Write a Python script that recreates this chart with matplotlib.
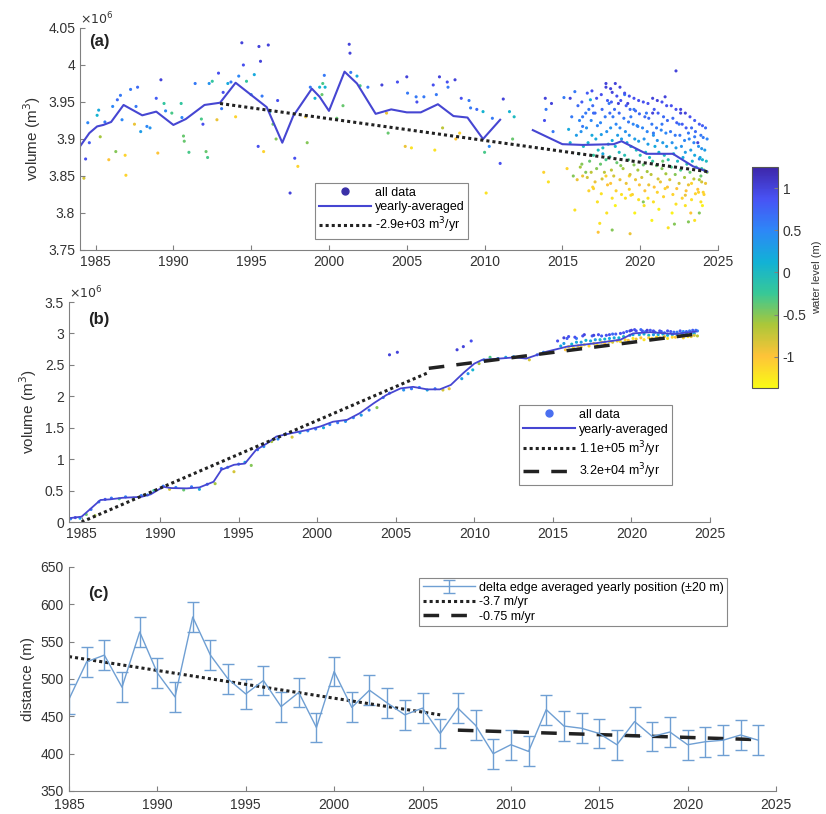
import numpy as np
import matplotlib
matplotlib.use("Agg")
import matplotlib.pyplot as plt
from matplotlib.colors import LinearSegmentedColormap
from matplotlib.lines import Line2D

plt.rcParams['font.family'] = ['Liberation Sans', 'DejaVu Sans']
plt.rcParams['font.size'] = 10
plt.rcParams['axes.edgecolor'] = '#808080'
plt.rcParams['xtick.color'] = '#808080'
plt.rcParams['ytick.color'] = '#808080'
plt.rcParams['xtick.labelcolor'] = '#333333'
plt.rcParams['ytick.labelcolor'] = '#333333'

# ---------- panel (a): volume, 10^6 m3 ----------
a_t = [1984.36, 1984.5, 1984.6, 1984.25, 1985.2, 1985.1, 1985.3, 1985.85, 1985.6, 1986.1,
       1986.3, 1986.4, 1986.6, 1986.7, 1986.9, 1986.95, 1987.25, 1987.7, 1987.5, 1987.6,
       1987.9, 1988.3, 1988.5, 1989.0, 1989.2, 1988.9, 1989.4, 1989.5, 1989.9, 1990.5,
       1990.55, 1990.65, 1990.7, 1991.0, 1991.4, 1991.8, 1991.9, 1992.1, 1992.2, 1992.3,
       1992.5, 1992.8, 1992.9, 1993.1, 1993.2, 1993.5, 1993.7, 1994.0, 1994.2, 1994.4,
       1994.5, 1994.7, 1995.0, 1995.2, 1995.5, 1995.6, 1996.1, 1995.7, 1995.45, 1995.8,
       1996.2, 1996.7, 1996.4, 1996.6, 1997.8, 1998.0, 1997.5, 1998.5, 1998.6, 1999.1,
       1998.8, 1999.4, 1999.6, 1999.7, 1999.75, 1999.55, 2000.5, 2001.3, 2001.35, 2001.4,
       2001.8, 2000.9, 2002.0, 2002.5, 2003.4, 2003.7, 2003.8, 2004.4, 2005.0, 2005.05,
       2004.9, 2005.3, 2005.6, 2005.65, 2006.1, 2006.7, 2007.1, 2007.6, 2007.65, 2006.9,
       2008.1, 2006.8, 2007.3, 2008.5, 2009.0, 2009.1, 2009.5, 2009.9, 2010.5, 2011.2,
       2011.6, 2011.9, 2010.0, 2010.3, 2011.0, 2011.8, 2008.15, 2010.1, 2008.4,
       # 2013-2024 dense period
       2013.9, 2013.95, 2014.3, 2013.85, 2014.4, 2014.1, 2013.8, 2015.1, 2015.5, 2015.8,
       2015.6, 2015.4, 2015.5, 2015.3, 2015.7, 2015.8, 2016.3, 2016.5, 2016.8, 2017.0,
       2016.5, 2017.0, 2017.4, 2017.3, 2017.8, 2018.2, 2018.0, 2018.25, 2018.6, 2019.0,
       2017.6, 2017.8, 2018.2, 2019.2, 2019.4, 2019.6, 2019.8, 2019.3, 2019.4, 2019.35,
       2020.2, 2020.4, 2020.8, 2020.85, 2021.4, 2021.6, 2022.3, 2022.6, 2021.45, 2021.6,
       2021.8, 2022.2, 2022.5, 2023.1, 2023.5, 2023.7, 2023.8, 2023.9, 2023.75, 2023.8,
       2023.5, 2023.1, 2022.9, 2023.3,
       2016.0, 2016.1, 2015.9, 2016.05, 2016.15, 2015.95,
       2016.6, 2016.7, 2016.55, 2016.65, 2016.75, 2016.6, 2016.7,
       2017.2, 2017.1, 2017.25, 2017.15, 2017.3, 2017.2, 2017.1, 2017.25,
       2017.8, 2017.9, 2017.75, 2017.85, 2017.95, 2017.8, 2017.7, 2017.9, 2017.85,
       2018.4, 2018.5, 2018.35, 2018.45, 2018.55, 2018.4, 2018.5, 2018.3, 2018.45, 2018.4,
       2019.0, 2019.1, 2018.95, 2019.05, 2019.15, 2019.0, 2018.9, 2019.1, 2019.05,
       2019.6, 2019.7, 2019.55, 2019.65, 2019.75, 2019.6, 2019.7, 2019.5, 2019.65,
       2020.2, 2020.3, 2020.15, 2020.25, 2020.35, 2020.2, 2020.1, 2020.3, 2020.25,
       2020.8, 2020.9, 2020.75, 2020.85, 2020.95, 2020.8, 2020.7, 2020.9, 2020.85, 2020.75,
       2021.4, 2021.5, 2021.35, 2021.45, 2021.55, 2021.4, 2021.3, 2021.5,
       2022.0, 2022.1, 2021.95, 2022.05, 2022.15, 2022.0, 2021.9, 2022.1, 2022.05,
       2022.6, 2022.7, 2022.55, 2022.65, 2022.75, 2022.6, 2022.5, 2022.7,
       2023.2, 2023.3, 2023.15, 2023.25, 2023.35, 2023.2, 2023.1, 2023.3, 2023.25,
       2023.8, 2023.9, 2023.75, 2023.85, 2023.95, 2023.8, 2023.7, 2023.9,
       2024.2, 2024.3, 2024.15, 2024.25, 2024.3, 2024.2, 2024.1,
       2016.25, 2016.3, 2016.2, 2016.35, 2016.25, 2016.3,
       2016.9, 2016.95, 2016.85, 2016.9, 2017.0, 2016.85, 2016.95,
       2017.5, 2017.55, 2017.45, 2017.5, 2017.6, 2017.45, 2017.55, 2017.5,
       2018.1, 2018.15, 2018.05, 2018.1, 2018.2, 2018.05, 2018.15, 2018.1, 2018.2,
       2018.7, 2018.75, 2018.65, 2018.7, 2018.8, 2018.65, 2018.75, 2018.7, 2018.8,
       2019.3, 2019.35, 2019.25, 2019.3, 2019.4, 2019.25, 2019.35, 2019.3,
       2019.9, 2019.95, 2019.85, 2019.9, 2020.0, 2019.85, 2019.95, 2019.9,
       2020.5, 2020.55, 2020.45, 2020.5, 2020.6, 2020.45, 2020.55, 2020.5,
       2021.1, 2021.15, 2021.05, 2021.1, 2021.2, 2021.05, 2021.15, 2021.1, 2021.2,
       2021.7, 2021.75, 2021.65, 2021.7, 2021.8, 2021.65, 2021.75,
       2022.3, 2022.35, 2022.25, 2022.3, 2022.4, 2022.25, 2022.35, 2022.3,
       2022.9, 2022.95, 2022.85, 2022.9, 2023.0, 2022.85, 2022.95, 2022.9,
       2023.5, 2023.55, 2023.45, 2023.5, 2023.6, 2023.45, 2023.55,
       2024.0, 2024.05, 2023.95, 2024.0, 2024.1, 2023.95, 2024.05, 2024.0]
a_v = [3.873, 3.922, 3.895, 3.847, 3.939, 3.932, 3.903, 3.872, 3.923, 3.944,
       3.883, 3.953, 3.959, 3.926, 3.878, 3.851, 3.967, 3.970, 3.920, 3.944,
       3.910, 3.917, 3.915, 3.881, 3.980, 3.955, 3.948, 3.938, 3.935, 3.948,
       3.929, 3.904, 3.897, 3.882, 3.975, 3.927, 3.920, 3.883, 3.875, 3.975,
       3.978, 3.926, 3.989, 3.941, 3.963, 3.975, 3.977, 3.930, 3.985, 4.030,
       4.000, 3.978, 3.960, 3.987, 4.025, 4.005, 4.027, 3.958, 3.890, 3.883,
       3.937, 3.952, 3.920, 3.900, 3.874, 3.863, 3.827, 3.930, 3.895, 3.955,
       3.970, 3.970, 3.975, 3.986, 3.970, 3.960, 3.928, 4.028, 4.016, 3.990,
       3.985, 3.945, 3.972, 3.970, 3.973, 3.935, 3.908, 3.977, 3.984, 3.962,
       3.890, 3.888, 3.957, 3.950, 3.957, 3.973, 3.984, 3.977, 3.970, 3.960,
       3.980, 3.885, 3.915, 3.955, 3.952, 3.942, 3.940, 3.937, 3.928, 3.954,
       3.937, 3.930, 3.882, 3.890, 3.867, 3.900, 3.900, 3.827, 3.908,
       3.955, 3.940, 3.948, 3.925, 3.910, 3.842, 3.855, 3.956, 3.955, 3.964,
       3.930, 3.913, 3.895, 3.860, 3.850, 3.804, 3.917, 3.935, 3.953, 3.935,
       3.855, 3.833, 3.786, 3.774, 3.975, 3.963, 3.948, 3.930, 3.948, 3.960,
       3.880, 3.850, 3.777, 3.948, 3.930, 3.940, 3.918, 3.850, 3.824, 3.772,
       3.815, 3.935, 3.935, 3.908, 3.920, 3.957, 3.992, 3.935, 3.870, 3.833,
       3.780, 3.785, 3.920, 3.908, 3.903, 3.895, 3.873, 3.850, 3.828, 3.800,
       3.790, 3.788, 3.824, 3.840,
       3.945, 3.925, 3.905, 3.880, 3.862, 3.845,
       3.962, 3.940, 3.915, 3.895, 3.870, 3.848, 3.830,
       3.955, 3.935, 3.918, 3.900, 3.885, 3.860, 3.842, 3.815,
       3.970, 3.952, 3.930, 3.910, 3.893, 3.872, 3.855, 3.838, 3.800,
       3.975, 3.958, 3.940, 3.920, 3.905, 3.890, 3.868, 3.850, 3.830, 3.810,
       3.962, 3.945, 3.928, 3.910, 3.895, 3.878, 3.860, 3.840, 3.820,
       3.955, 3.938, 3.920, 3.900, 3.885, 3.865, 3.845, 3.825, 3.800,
       3.950, 3.930, 3.915, 3.900, 3.882, 3.865, 3.848, 3.830, 3.810,
       3.955, 3.940, 3.920, 3.905, 3.890, 3.870, 3.852, 3.835, 3.815, 3.790,
       3.950, 3.930, 3.912, 3.895, 3.878, 3.860, 3.842, 3.822,
       3.945, 3.928, 3.910, 3.895, 3.880, 3.862, 3.845, 3.825, 3.800,
       3.940, 3.920, 3.905, 3.890, 3.875, 3.858, 3.840, 3.820,
       3.930, 3.915, 3.900, 3.885, 3.870, 3.855, 3.838, 3.818, 3.800,
       3.920, 3.905, 3.890, 3.875, 3.860, 3.845, 3.832, 3.815,
       3.915, 3.900, 3.885, 3.870, 3.855, 3.840, 3.825,
       3.950, 3.930, 3.910, 3.890, 3.866, 3.850,
       3.965, 3.945, 3.925, 3.905, 3.878, 3.855, 3.835,
       3.960, 3.940, 3.922, 3.906, 3.888, 3.866, 3.846, 3.826,
       3.968, 3.950, 3.935, 3.915, 3.898, 3.876, 3.858, 3.840, 3.820,
       3.970, 3.952, 3.935, 3.915, 3.900, 3.882, 3.864, 3.845, 3.825,
       3.958, 3.940, 3.923, 3.905, 3.890, 3.872, 3.852, 3.832,
       3.952, 3.934, 3.917, 3.897, 3.878, 3.858, 3.838, 3.818,
       3.948, 3.928, 3.910, 3.893, 3.875, 3.856, 3.838, 3.820,
       3.952, 3.935, 3.915, 3.898, 3.882, 3.864, 3.846, 3.828, 3.805,
       3.945, 3.925, 3.908, 3.890, 3.872, 3.853, 3.835,
       3.940, 3.922, 3.905, 3.888, 3.870, 3.852, 3.833, 3.812,
       3.935, 3.915, 3.898, 3.882, 3.866, 3.848, 3.830, 3.810,
       3.925, 3.910, 3.895, 3.878, 3.862, 3.846, 3.826,
       3.918, 3.902, 3.887, 3.872, 3.858, 3.842, 3.828, 3.810]
a_w = [0.9, 0.5, 0.8, -0.8, 0.2, 0.1, -0.6, -1.0, 0.6, 0.5,
       -0.5, 0.7, 0.6, 0.5, -1.1, -1.1, 0.6, 0.7, -0.9, 0.6,
       0.3, 0.5, 0.4, -1.0, 1.0, 0.8, -0.2, 0.5, -0.3, -0.2,
       0.5, -0.4, -0.4, -0.3, 0.6, -0.3, 0.9, -0.4, -0.3, 0.4,
       -0.2, -0.9, 0.9, 0.6, 0.9, 0.2, 0.6, -1.1, 0.5, 1.0,
       0.9, -0.2, 0.4, 0.2, 1.0, 1.0, 1.0, 0.6, 0.9, -1.1,
       0.1, 0.9, -0.4, -0.5, 0.9, -1.1, 1.0, -0.9, -0.5, 0.1,
       0.6, 0.1, -0.3, 0.6, 0.1, -0.4, -0.4, 1.0, 1.0, 0.6,
       0.2, -0.4, -0.3, 0.6, 1.0, -0.9, -0.4, 0.9, 1.0, 0.6,
       -0.9, -1.2, 0.6, 0.9, 0.6, 0.9, 1.0, 0.9, 0.6, 0.6,
       1.0, -1.2, -0.7, 0.9, 0.6, 0.6, 0.7, 0.1, 0.6, 1.0,
       0.1, 0.0, -0.3, 0.5, 0.9, -0.4, -1.0, -1.2, -1.1,
       1.0, 0.6, 1.0, 0.9, 0.6, -1.2, -1.1, 0.6, 1.0, 0.6,
       0.6, 0.2, 0.1, -1.1, -0.5, -1.2, 0.6, 0.6, 0.2, 0.7,
       -0.5, -1.1, -1.2, -1.0, 1.0, 1.0, 0.6, 0.6, 1.0, 0.6,
       0.2, -1.1, -0.5, 1.0, 0.6, 0.6, 0.5, -1.1, -1.2, -0.9,
       -0.5, 0.6, 1.0, 0.6, 0.6, 1.0, 1.0, 1.0, -0.4, -1.1,
       -1.2, -0.5, 0.6, 0.6, 0.6, 1.0, 0.5, -0.4, -1.1, -0.5,
       -1.2, -0.5, -0.9, -1.1,
       0.7, 0.5, 0.3, -0.2, -0.6, -0.9,
       0.8, 0.6, 0.4, 0.1, -0.4, -0.8, -1.1,
       0.9, 0.7, 0.5, 0.2, 0.0, -0.5, -0.9, -1.2,
       1.0, 0.8, 0.6, 0.4, 0.1, -0.3, -0.7, -1.0, -1.2,
       1.0, 0.9, 0.7, 0.5, 0.3, 0.1, -0.4, -0.8, -1.1, -1.3,
       0.9, 0.8, 0.6, 0.4, 0.2, -0.1, -0.6, -0.9, -1.2,
       0.9, 0.7, 0.5, 0.3, 0.0, -0.5, -0.9, -1.1, -1.3,
       0.9, 0.7, 0.5, 0.4, 0.1, -0.4, -0.8, -1.0, -1.2,
       1.0, 0.8, 0.6, 0.4, 0.2, -0.2, -0.7, -1.0, -1.2, -1.3,
       0.9, 0.7, 0.5, 0.3, 0.0, -0.5, -0.9, -1.1,
       0.9, 0.7, 0.6, 0.4, 0.1, -0.3, -0.8, -1.1, -1.3,
       1.0, 0.8, 0.6, 0.4, 0.2, -0.3, -0.8, -1.1,
       0.9, 0.7, 0.5, 0.3, 0.1, -0.4, -0.9, -1.2, -1.0,
       0.8, 0.6, 0.4, 0.2, -0.2, -0.6, -1.0, -1.2,
       0.7, 0.5, 0.3, 0.0, -0.5, -0.9, -1.1,
       0.8, 0.6, 0.4, 0.0, -0.5, -0.9,
       0.9, 0.7, 0.5, 0.2, -0.2, -0.7, -1.1,
       0.9, 0.7, 0.5, 0.3, 0.0, -0.4, -0.8, -1.2,
       1.0, 0.8, 0.7, 0.4, 0.2, -0.2, -0.7, -1.0, -1.2,
       1.0, 0.9, 0.7, 0.5, 0.3, 0.0, -0.5, -0.9, -1.2,
       0.9, 0.7, 0.6, 0.4, 0.1, -0.3, -0.8, -1.1,
       0.9, 0.7, 0.5, 0.3, -0.1, -0.6, -1.0, -1.2,
       0.9, 0.7, 0.5, 0.3, 0.0, -0.6, -0.9, -1.2,
       1.0, 0.8, 0.6, 0.4, 0.1, -0.4, -0.8, -1.1, -1.3,
       0.9, 0.7, 0.5, 0.3, -0.1, -0.6, -1.0,
       0.9, 0.8, 0.6, 0.3, 0.0, -0.5, -1.0, -1.2,
       1.0, 0.8, 0.5, 0.3, -0.1, -0.6, -1.0, -1.2,
       0.8, 0.7, 0.5, 0.2, -0.2, -0.7, -1.1,
       0.8, 0.6, 0.4, 0.1, -0.4, -0.8, -1.1, -1.3]

# yearly-averaged line (a); NaN marks the 2012 gap
a_avg_t = [1983.9, 1984.6, 1985.1, 1985.5, 1986.0, 1986.8, 1988.0, 1988.9, 1990.0, 1990.8,
           1992.0, 1993.0, 1994.0, 1996.0, 1997.0, 1997.7, 1998.9, 1999.4, 2000.0, 2001.0,
           2001.8, 2003.0, 2004.0, 2005.0, 2005.9, 2007.0, 2008.0, 2008.9, 2009.9, 2011.0,
           2012.0, 2013.1, 2015.0, 2016.3, 2018.3, 2018.8, 2020.4, 2022.1, 2023.4, 2024.3]
a_avg_v = [3.887, 3.908, 3.917, 3.919, 3.923, 3.946, 3.932, 3.937, 3.919, 3.927,
           3.946, 3.949, 3.976, 3.943, 3.895, 3.931, 3.968, 3.957, 3.938, 3.991,
           3.975, 3.934, 3.940, 3.936, 3.936, 3.947, 3.931, 3.929, 3.900, 3.926,
           np.nan, 3.912, 3.893, 3.892, 3.893, 3.897, 3.880, 3.880, 3.863, 3.856]
a_fit_t = [1993.0, 2024.3]
a_fit_v = [3.948, 3.856]

# ---------- panel (b): volume, 10^6 m3 ----------
b_t = [1984.3, 1984.6, 1984.9, 1985.3, 1985.6, 1985.85, 1986.1, 1986.5, 1986.9, 1987.4,
       1987.8, 1988.3, 1988.8, 1989.2, 1989.6, 1990.2, 1990.6, 1991.0, 1991.5, 1992.0,
       1992.5, 1993.0, 1993.5, 1993.9, 1994.3, 1994.7, 1995.0, 1995.4, 1995.8, 1996.2,
       1996.6, 1997.1, 1997.5, 1998.0, 1998.4, 1998.9, 1999.4, 1999.9, 2000.4, 2000.8,
       2001.3, 2001.8, 2002.3, 2002.8, 2003.3, 2003.8, 2004.2, 2004.6, 2004.6, 2005.1,
       2005.5, 2006.0, 2006.5, 2007.0, 2007.5, 2008.0, 2008.4, 2008.9, 2009.3, 2009.8,
       2009.2, 2009.6, 2009.9, 2010.3, 2010.6, 2011.0, 2011.5, 2012.0, 2012.5, 2013.5,
       2014.0, 2014.4,
       2015.3, 2015.7, 2016.0, 2016.5, 2017.0, 2017.5, 2017.9, 2018.4, 2018.8, 2019.3,
       2019.7, 2020.0, 2020.3, 2020.6, 2020.9, 2021.2, 2021.5, 2021.8, 2022.1, 2022.5,
       2022.9, 2023.3, 2023.7, 2024.1,
       2015.5, 2016.2, 2016.8, 2017.4, 2018.0, 2018.6, 2019.2, 2019.9, 2020.5, 2021.1,
       2021.7, 2022.3, 2022.9, 2023.5, 2024.0,
       2015.8, 2016.3, 2016.8, 2017.3, 2017.8, 2018.3, 2018.8, 2019.3, 2019.8, 2020.3,
       2020.8, 2021.3, 2021.8, 2022.3, 2022.8, 2023.3, 2023.8, 2024.2,
       2015.9, 2016.4, 2016.9, 2017.6, 2018.1, 2018.6, 2019.0, 2019.5, 2019.9, 2020.2,
       2020.7, 2021.0, 2021.4, 2021.9, 2022.3, 2022.7, 2023.1, 2023.5, 2023.9, 2024.2,
       2015.7, 2016.5, 2017.1, 2017.7, 2018.3, 2018.9, 2019.5, 2020.1, 2020.8, 2021.4,
       2022.0, 2022.6, 2023.2, 2023.8,
       2016.0, 2016.6, 2017.0, 2017.6, 2018.1, 2018.6, 2019.1, 2019.6, 2020.1, 2020.6,
       2021.1, 2021.6, 2022.1, 2022.6, 2023.1, 2023.6, 2024.0]
b_v = [0.05, 0.07, 0.06, 0.12, 0.20, 0.10, 0.32, 0.36, 0.38, 0.37,
       0.40, 0.38, 0.42, 0.43, 0.50, 0.57, 0.52, 0.55, 0.51, 0.56,
       0.52, 0.60, 0.61, 0.85, 0.87, 0.80, 0.92, 0.95, 0.90, 1.15,
       1.20, 1.28, 1.32, 1.40, 1.35, 1.42, 1.45, 1.48, 1.50, 1.55,
       1.58, 1.60, 1.66, 1.70, 1.78, 1.82, 1.98, 2.05, 2.66, 2.70,
       2.10, 2.12, 2.14, 2.10, 2.12, 2.10, 2.12, 2.74, 2.79, 2.88,
       2.28, 2.36, 2.42, 2.52, 2.58, 2.62, 2.60, 2.62, 2.63, 2.58,
       2.66, 2.70,
       2.88, 2.93, 2.95, 2.92, 2.98, 2.96, 2.98, 2.97, 2.99, 3.00,
       3.03, 3.05, 3.04, 3.06, 3.03, 3.05, 3.02, 3.04, 3.01, 3.03,
       3.02, 3.03, 3.04, 3.05,
       2.80, 2.83, 2.86, 2.88, 2.90, 2.92, 2.93, 2.97, 2.98, 2.97,
       2.98, 2.97, 2.98, 2.99, 3.00,
       2.74, 2.77, 2.78, 2.80, 2.82, 2.84, 2.86, 2.87, 2.89, 2.91,
       2.90, 2.92, 2.93, 2.92, 2.94, 2.93, 2.95, 2.96,
       2.92, 2.94, 2.96, 2.97, 2.96, 2.98, 2.99, 3.01, 3.04, 3.06,
       3.04, 3.05, 3.04, 3.03, 3.04, 3.02, 3.04, 3.03, 3.05, 3.04,
       2.84, 2.86, 2.89, 2.90, 2.91, 2.93, 2.95, 2.98, 2.99, 2.98,
       2.99, 2.98, 3.00, 3.00,
       2.79, 2.80, 2.82, 2.84, 2.86, 2.87, 2.88, 2.90, 2.92, 2.93,
       2.93, 2.94, 2.95, 2.94, 2.96, 2.95, 2.97]
b_w = [0.5, 0.9, 0.3, -0.4, 0.6, -0.6, 0.5, 0.8, 0.6, -0.3,
       0.5, -0.5, 0.6, 0.3, -0.2, 0.6, -0.8, 0.5, -0.4, 0.6,
       0.2, 0.7, -0.6, 0.7, 0.5, -0.8, 0.6, 0.2, -0.5, 0.6,
       0.4, -0.6, 0.5, 0.6, -0.8, 0.3, 0.5, 0.6, 0.2, 0.5,
       0.6, 0.4, 0.5, 0.3, 0.6, -0.5, 0.5, 0.7, 1.0, 1.0,
       0.4, 0.6, 0.5, 0.2, 0.6, -0.8, -0.9, 1.0, 1.0, 0.9,
       0.3, 0.4, 0.1, -0.6, 0.4, -0.3, 0.5, 0.2, 0.4, -0.8,
       0.6, 0.5,
       0.9, 1.0, 0.9, 0.6, 1.0, 0.8, 0.9, 0.9, 0.7, 0.9,
       0.8, 1.0, 0.9, 0.7, 0.6, 0.8, 0.6, 0.9, 0.7, 0.8,
       0.6, 0.5, 0.6, 0.7,
       0.2, 0.1, 0.3, 0.2, 0.0, 0.2, 0.1, 0.3, 0.2, 0.0,
       0.2, 0.1, 0.3, 0.0, 0.2,
       -1.0, -1.2, -0.9, -1.1, -1.2, -1.0, -0.8, -1.2, -1.0, -0.9,
       -1.2, -1.0, -0.8, -1.2, -1.0, -1.1, -0.9, -0.7,
       0.8, 0.9, 0.9, 1.0, 0.8, 0.9, 0.8, 0.9, 1.0, 0.9,
       0.8, 1.0, 0.9, 0.8, 0.9, 0.7, 0.8, 0.7, 0.8, 0.6,
       0.3, 0.2, 0.1, 0.3, 0.1, 0.2, 0.0, 0.2, 0.1, 0.3,
       0.1, 0.2, 0.1, 0.3,
       -1.1, -1.0, -1.2, -0.9, -1.1, -1.2, -0.9, -1.1, -1.2, -1.0,
       -1.1, -1.2, -0.9, -1.1, -1.0, -1.2, -0.8]

b_avg_t = [1984.2, 1985.0, 1985.3, 1986.2, 1986.8, 1987.6, 1988.8, 1989.4, 1990.2, 1990.7,
           1991.7, 1992.5, 1993.4, 1993.9, 1994.7, 1995.4, 1996.1, 1996.8, 1997.4, 1998.3,
           1999.3, 2000.2, 2001.0, 2001.9, 2002.7, 2003.6, 2004.4, 2005.3, 2006.1, 2007.0,
           2007.8, 2008.5, 2009.3, 2010.0, 2010.5, 2011.6, 2012.6, 2013.3, 2014.6, 2015.9,
           2017.6, 2019.3, 2020.1, 2021.2, 2022.7, 2024.1]
b_avg_v = [0.06, 0.085, 0.15, 0.35, 0.36, 0.385, 0.40, 0.44, 0.56, 0.54,
           0.535, 0.55, 0.64, 0.83, 0.91, 0.93, 1.145, 1.25, 1.36, 1.41,
           1.46, 1.52, 1.595, 1.625, 1.73, 1.89, 2.02, 2.125, 2.15, 2.11,
           2.11, 2.18, 2.37, 2.52, 2.58, 2.60, 2.62, 2.60, 2.71, 2.79,
           2.84, 2.90, 3.00, 3.02, 2.99, 3.03]
b_fit1_t = [1985.0, 2007.1]
b_fit1_v = [0.0, 2.38]
b_fit2_t = [2007.1, 2024.3]
b_fit2_v = [2.445, 2.995]

# ---------- panel (c): delta edge position (m) ----------
c_year = list(range(1985, 2025))
c_dist = [473, 523, 532, 489, 563, 508, 476, 583, 532, 500,
          480, 498, 463, 482, 435, 510, 462, 485, 468, 452,
          461, 427, 461, 438, 400, 412, 403, 459, 437, 434,
          427, 412, 443, 423, 429, 412, 416, 418, 425, 418]
c_err = 20
c_fit1_t = [1985.0, 2006.0]
c_fit1_v = [530.0, 452.0]
c_fit2_t = [2007.0, 2024.0]
c_fit2_v = [431.5, 418.75]

# parula-like colormap, reversed (yellow = low water)
parula = LinearSegmentedColormap.from_list('parula', [
    (0.2422, 0.1504, 0.6603), (0.2810, 0.3228, 0.9579), (0.1786, 0.5289, 0.9682),
    (0.0689, 0.6948, 0.8394), (0.2161, 0.7843, 0.5923), (0.6720, 0.7793, 0.2227),
    (0.9970, 0.7659, 0.2199), (0.9769, 0.9839, 0.0805)]).reversed()
wmin, wmax = -1.37, 1.25

avg_color = '#4646d2'
err_color = '#6f9fd3'
W, H = 826, 814
fig = plt.figure(figsize=(W / 100, H / 100), dpi=100)


def px_axes(left, top, right, bottom):
    return fig.add_axes([left / W, 1 - bottom / H, (right - left) / W, (bottom - top) / H])


def style(ax):
    ax.spines['top'].set_visible(False)
    ax.spines['right'].set_visible(False)
    ax.tick_params(direction='in', length=3.5, width=0.8, labelsize=10)
    ax.yaxis.set_major_formatter(plt.FuncFormatter(lambda v, p: '%g' % v))


# (a)
axa = px_axes(80, 28, 718, 250)
sca = axa.scatter(a_t, a_v, c=a_w, cmap=parula, vmin=wmin, vmax=wmax, s=5, linewidths=0)
axa.plot(a_avg_t, a_avg_v, color=avg_color, lw=1.5)
axa.plot(a_fit_t, a_fit_v, color='#222222', lw=2.2, ls=(0, (1, 1)))
axa.set_xlim(1984, 2025)
axa.set_ylim(3.75, 4.05)
axa.set_yticks([3.75, 3.8, 3.85, 3.9, 3.95, 4.0, 4.05])
axa.set_xticks(range(1985, 2026, 5))
axa.set_ylabel('volume (m$^3$)', fontsize=11, color='#333333')
style(axa)
axa.text(0.0, 1.005, r'$\times10^6$', transform=axa.transAxes, fontsize=9, color='#333333',
         ha='left', va='bottom')
axa.text(0.015, 0.92, '(a)', transform=axa.transAxes, fontsize=12, fontweight='bold', color='#222222')
ha = [Line2D([], [], ls='', marker='o', ms=5, color='#3a30a8'),
      Line2D([], [], color=avg_color, lw=1.5),
      Line2D([], [], color='#222222', lw=2.2, ls=(0, (1, 1)))]
leg = axa.legend(ha, ['all data', 'yearly-averaged', '-2.9e+03 m$^3$/yr'], loc='upper left',
                 bbox_to_anchor=(0.368, 0.302), fontsize=9, handlelength=4.2, fancybox=False,
                 edgecolor='#888888', framealpha=1, borderpad=0.3, labelspacing=0.2,
                 handletextpad=0.3, borderaxespad=0)
leg.get_frame().set_linewidth(0.8)

# colorbar
cax = px_axes(752, 167, 778, 388)
cb = fig.colorbar(sca, cax=cax, ticks=[-1, -0.5, 0, 0.5, 1])
cb.ax.yaxis.set_major_formatter(plt.FuncFormatter(lambda v, p: '%g' % v))
cb.ax.tick_params(direction='in', length=3, labelsize=10)
cb.outline.set_edgecolor('#555555')
cb.set_label('water level (m)', fontsize=8, color='#333333')

# (b)
axb = px_axes(69, 302, 710, 522)
axb.scatter(b_t, b_v, c=b_w, cmap=parula, vmin=wmin, vmax=wmax, s=5, linewidths=0)
axb.plot(b_avg_t, b_avg_v, color=avg_color, lw=1.3)
axb.plot(b_fit1_t, b_fit1_v, color='#222222', lw=2.2, ls=(0, (1, 1)))
axb.plot(b_fit2_t, b_fit2_v, color='#222222', lw=2.5, ls=(0, (4.5, 3.5)))
axb.set_xlim(1984.2, 2025)
axb.set_ylim(0, 3.5)
axb.set_yticks([0, 0.5, 1, 1.5, 2, 2.5, 3, 3.5])
axb.set_xticks(range(1985, 2026, 5))
axb.set_ylabel('volume (m$^3$)', fontsize=11, color='#333333')
style(axb)
axb.text(0.0, 1.005, r'$\times10^6$', transform=axb.transAxes, fontsize=9, color='#333333',
         ha='left', va='bottom')
axb.text(0.03, 0.9, '(b)', transform=axb.transAxes, fontsize=12, fontweight='bold', color='#222222')
hb = [Line2D([], [], ls='', marker='o', ms=5, color='#4a6ff0'),
      Line2D([], [], color=avg_color, lw=1.5),
      Line2D([], [], color='#222222', lw=2.2, ls=(0, (1, 1))),
      Line2D([], [], color='#222222', lw=2.5, ls=(0, (4.5, 3.5)))]
leg = axb.legend(hb, ['all data', 'yearly-averaged', '1.1e+05 m$^3$/yr', '3.2e+04 m$^3$/yr'],
                 loc='upper left', bbox_to_anchor=(0.702, 0.532), fontsize=9, handlelength=4.2,
                 fancybox=False, edgecolor='#888888', framealpha=1, borderpad=0.3,
                 labelspacing=0.25, handletextpad=0.3, borderaxespad=0)
leg.get_frame().set_linewidth(0.8)

# (c)
axc = px_axes(69, 567, 776, 791)
eb = axc.errorbar(c_year, c_dist, yerr=c_err, color=err_color, lw=1, elinewidth=1, capsize=4,
                  capthick=1)
axc.plot(c_fit1_t, c_fit1_v, color='#222222', lw=2.2, ls=(0, (1, 1)))
axc.plot(c_fit2_t, c_fit2_v, color='#222222', lw=2.5, ls=(0, (4.5, 3.5)))
axc.set_xlim(1985, 2025)
axc.set_ylim(350, 650)
axc.set_xticks(range(1985, 2026, 5))
axc.set_ylabel('distance (m)', fontsize=11, color='#333333')
style(axc)
axc.tick_params(axis='x', pad=5)
axc.tick_params(axis='y', pad=4)
axc.text(0.027, 0.86, '(c)', transform=axc.transAxes, fontsize=12, fontweight='bold', color='#222222')
hc = [eb, Line2D([], [], color='#222222', lw=2.2, ls=(0, (1, 1))),
      Line2D([], [], color='#222222', lw=2.5, ls=(0, (4.5, 3.5)))]
leg = axc.legend(hc, ['delta edge averaged yearly position (\u00b120 m)', '-3.7 m/yr', '-0.75 m/yr'],
                 loc='upper left', bbox_to_anchor=(0.495, 0.951), fontsize=9, handlelength=4.2,
                 fancybox=False, edgecolor='#888888', framealpha=1, borderpad=0.3,
                 labelspacing=0.2, handletextpad=0.3, borderaxespad=0)
leg.get_frame().set_linewidth(0.8)

fig.savefig('out.png', dpi=100)
